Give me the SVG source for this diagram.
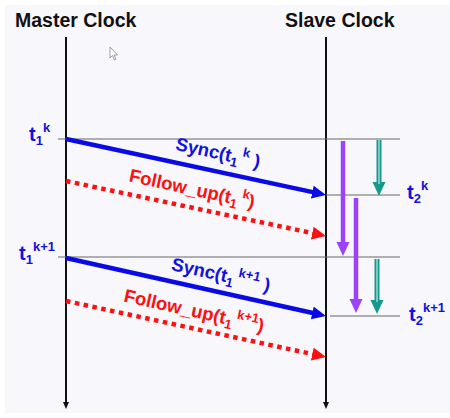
<svg xmlns="http://www.w3.org/2000/svg" width="450" height="418" viewBox="0 0 450 418">
  <defs>
    <style>
      .title { font-family: "Liberation Sans", Arial, sans-serif; font-weight: bold; font-size: 19.5px; fill: #111; }
      .lbl { font-family: "Liberation Sans", Arial, sans-serif; font-weight: bold; font-size: 18.5px; fill: #1010e0; }
      .corner { font-size: 20px; }
      .red { fill: #ff1010; }
      .sm { font-size: 13px; }
      .life { stroke: #111; stroke-width: 2; fill: none; }
      .tick { stroke: #666; stroke-width: 1; fill: none; }
      .sync { stroke: #0a0ae6; stroke-width: 4.5; fill: none; }
      .fup { stroke: #ff1010; stroke-width: 4.5; stroke-dasharray: 4.5 4.5; fill: none; }
      .purple { stroke: #9b42fa; stroke-width: 4.5; fill: none; }
      .teal { stroke: #16998c; stroke-width: 5; fill: none; }
      .tealin { stroke: #bfe8e2; stroke-width: 1.2; fill: none; }
    </style>
    <marker id="hBlue" markerUnits="userSpaceOnUse" markerWidth="16" markerHeight="14" refX="4" refY="6.5" orient="auto">
      <path d="M0,0 L14,6.5 L0,13 z" fill="#0a0ae6"/>
    </marker>
    <marker id="hRed" markerUnits="userSpaceOnUse" markerWidth="16" markerHeight="14" refX="4" refY="6.5" orient="auto">
      <path d="M0,0 L14,6.5 L0,13 z" fill="#ff1010"/>
    </marker>
    <marker id="hPurple" markerUnits="userSpaceOnUse" markerWidth="16" markerHeight="14" refX="4" refY="6.5" orient="auto">
      <path d="M0,0 L14,6.5 L0,13 z" fill="#9b42fa"/>
    </marker>
    <marker id="hTeal" markerUnits="userSpaceOnUse" markerWidth="16" markerHeight="14" refX="4" refY="6.5" orient="auto">
      <path d="M0,0 L14,6.5 L0,13 z" fill="#16998c"/>
    </marker>
    <marker id="hBlack" markerUnits="userSpaceOnUse" markerWidth="10" markerHeight="8" refX="1" refY="3" orient="auto">
      <path d="M0,0 L7,3 L0,6 z" fill="#111"/>
    </marker>
  </defs>

  <rect x="0" y="0" width="450" height="418" fill="#ffffff"/>
  <rect x="5" y="5" width="445" height="408" fill="#f8f7fc"/>

  <g id="master-clock">
    <text class="title" x="15" y="27">Master Clock</text>
    <line class="life" x1="66" y1="37" x2="66" y2="403" marker-end="url(#hBlack)"/>
  </g>
  <g id="slave-clock">
    <text class="title" x="285" y="27">Slave Clock</text>
    <line class="life" x1="326" y1="37" x2="326" y2="403" marker-end="url(#hBlack)"/>
  </g>

  <g id="time-marks">
    <line class="tick" x1="58" y1="139" x2="400" y2="139"/>
    <line class="tick" x1="326" y1="195" x2="400" y2="195"/>
    <line class="tick" x1="58" y1="257" x2="400" y2="257"/>
    <line class="tick" x1="330" y1="316" x2="400" y2="316"/>
  </g>

  <g id="t1k">
    <text class="lbl corner" x="29" y="141">t<tspan class="sm" dy="4">1</tspan><tspan class="sm" dy="-13">k</tspan></text>
  </g>
  <g id="t1k1">
    <text class="lbl corner" x="19" y="260">t<tspan class="sm" dy="4">1</tspan><tspan class="sm" dy="-13">k+1</tspan></text>
  </g>
  <g id="t2k">
    <text class="lbl corner" x="407" y="199">t<tspan class="sm" dy="4">2</tspan><tspan class="sm" dy="-13">k</tspan></text>
  </g>
  <g id="t2k1">
    <text class="lbl corner" x="409" y="321">t<tspan class="sm" dy="4">2</tspan><tspan class="sm" dy="-13">k+1</tspan></text>
  </g>

  <g id="connectors">
    <line class="sync" x1="66" y1="139" x2="316.2" y2="192.9" marker-end="url(#hBlue)"/>
    <line class="fup" x1="66" y1="181" x2="316.2" y2="233.9" marker-end="url(#hRed)"/>
    <line class="sync" x1="66" y1="258" x2="316.2" y2="313.8" marker-end="url(#hBlue)"/>
    <line class="fup" x1="66" y1="301" x2="316.2" y2="354.9" marker-end="url(#hRed)"/>

    <line class="purple" x1="343" y1="141" x2="343" y2="246" marker-end="url(#hPurple)"/>
    <line class="purple" x1="356" y1="198" x2="356" y2="303" marker-end="url(#hPurple)"/>

    <line class="teal" x1="379" y1="140" x2="379" y2="186" marker-end="url(#hTeal)"/>
    <line class="tealin" x1="379" y1="140" x2="379" y2="184"/>
    <line class="teal" x1="377" y1="259" x2="377" y2="304" marker-end="url(#hTeal)"/>
    <line class="tealin" x1="377" y1="259" x2="377" y2="302"/>
  </g>

  <g id="sync-label-1">
    <text class="lbl" text-anchor="middle" transform="translate(218,153) rotate(12.2)" y="6">Sync(t<tspan class="sm" dy="4">1</tspan><tspan class="sm" dy="-12"> k</tspan><tspan dy="8"> )</tspan></text>
  </g>
  <g id="followup-label-1">
    <text class="lbl red" text-anchor="middle" transform="translate(192,189) rotate(12.2)" y="6">Follow_up(t<tspan class="sm" dy="4">1</tspan><tspan class="sm" dy="-12"> k</tspan><tspan dy="8">)</tspan></text>
  </g>
  <g id="sync-label-2">
    <text class="lbl" text-anchor="middle" transform="translate(221,275) rotate(12.5)" y="6">Sync(t<tspan class="sm" dy="4">1</tspan><tspan class="sm" dy="-12"> k+1</tspan><tspan dy="8"> )</tspan></text>
  </g>
  <g id="followup-label-2">
    <text class="lbl red" text-anchor="middle" transform="translate(194,311) rotate(12.5)" y="6">Follow_up(t<tspan class="sm" dy="4">1</tspan><tspan class="sm" dy="-12"> k+1</tspan><tspan dy="8">)</tspan></text>
  </g>

  <g id="cursor">
    <path d="M110,47 L110,58 L112.5,55.5 L114.5,60 L116,59.3 L114,55 L117.5,55 Z" fill="#ffffff" stroke="#888" stroke-width="0.8"/>
  </g>
</svg>
